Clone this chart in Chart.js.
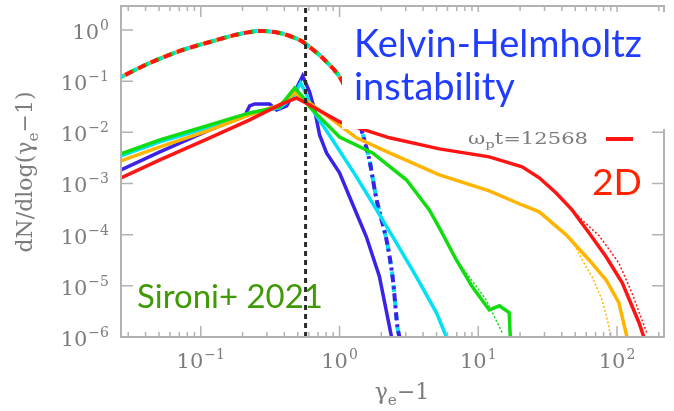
<!DOCTYPE html>
<html lang="en">
<head>
    <meta charset="UTF-8">
    <title>Electron spectra - Kelvin-Helmholtz</title>
    <script src="https://cdn.jsdelivr.net/npm/chart.js"></script>
    <style>
        html, body {
            margin: 0;
            padding: 0;
            background: #fff;
        }
        .chart-container {
            width: 674px;
            height: 411px;
            position: relative;
        }
    </style>
</head>
<body>
    <div class="chart-container">
        <canvas id="spectrumChart"></canvas>
    </div>

    <script>
        // x = gamma_e - 1, y = dN/dlog(gamma_e - 1)
        const blueX = [0.0266, 0.0507, 0.116, 0.207, 0.225, 0.245, 0.313, 0.352, 0.416, 0.475, 0.542, 0.608, 0.661, 0.718, 0.806, 1.0, 1.18, 1.56, 1.94, 2.29, 2.37];
        const blueY = [0.00184, 0.00414, 0.0111, 0.0209, 0.0328, 0.0359, 0.0359, 0.0274, 0.0328, 0.0615, 0.126, 0.0615, 0.0274, 0.0089, 0.00396, 0.00161, 0.00055, 9.1e-5, 1.5e-5, 1.6e-6, 1e-6];

        const cyanX = [0.0266, 0.0507, 0.116, 0.225, 0.37, 0.459, 0.524, 0.579, 0.64, 0.891, 1.325, 1.85, 2.57, 3.58, 4.99, 5.89];
        const cyanY = [0.00346, 0.0065, 0.0127, 0.0239, 0.030, 0.047, 0.0922, 0.0537, 0.0274, 0.0071, 0.00135, 0.000305, 6.9e-5, 1.5e-5, 3.0e-6, 1e-6];

        const greenX = [0.0266, 0.0507, 0.116, 0.225, 0.37, 0.475, 0.542, 0.608, 1.0, 1.73, 3.03, 4.44, 5.24, 6.95, 9.05, 12.0, 14.2, 16.7, 17.0];
        const greenY = [0.00379, 0.0071, 0.01395, 0.0239, 0.0313, 0.0736, 0.0491, 0.0313, 0.0081, 0.00396, 0.00118, 0.000305, 0.000136, 3.2e-5, 9.6e-6, 3.4e-6, 4.07e-6, 3.0e-6, 1e-6];

        const orangeX = [0.0266, 0.0507, 0.116, 0.225, 0.37, 0.475, 0.608, 1.325, 2.29, 5.24, 12.0, 20.7, 27.5, 43.0, 62.9, 83.4, 103, 116, 118];
        const orangeY = [0.00276, 0.0052, 0.0111, 0.0219, 0.0343, 0.0589, 0.0375, 0.0078, 0.00396, 0.00147, 0.000716, 0.00038, 0.000279, 9.9e-5, 3.2e-5, 1.3e-5, 4.7e-6, 1.2e-6, 1e-6];

        const redX = [0.0266, 0.0507, 0.116, 0.225, 0.37, 0.49, 0.608, 1.0, 2.29, 5.24, 12.0, 20.7, 27.5, 36.4, 47.4, 62.9, 83.4, 109, 144, 156];
        const redY = [0.00129, 0.00289, 0.0078, 0.0175, 0.0343, 0.047, 0.0343, 0.016, 0.0078, 0.00474, 0.00331, 0.00211, 0.00129, 0.00065, 0.000305, 0.000108, 3.7e-5, 1.15e-5, 1.9e-6, 1e-6];

        // thin dotted tails
        const redDotX = [47.4, 57.9, 74.3, 103, 128, 164];
        const redDotY = [0.000305, 0.000178, 9.5e-5, 2.8e-5, 7.3e-6, 1.2e-6];
        const orangeDotX = [49.1, 59.8, 66.1, 78.0, 87.6, 89.1];
        const orangeDotY = [6.3e-5, 2.35e-5, 1.5e-5, 5.3e-6, 1.6e-6, 1e-6];
        const greenDotX = [6.95, 8.61, 11.4, 14.9];
        const greenDotY = [3.2e-5, 1.5e-5, 5.3e-6, 1.2e-6];

        // initial Maxwellian (dashed, same for every run)
        const maxwellX = [0.0266, 0.043, 0.0706, 0.116, 0.191, 0.266, 0.37, 0.515, 0.608, 0.78, 1.0, 1.28, 1.46, 1.64, 1.85, 2.18, 2.41, 2.61, 2.70];
        const maxwellY = [0.121, 0.227, 0.389, 0.583, 0.836, 0.956, 0.874, 0.638, 0.466, 0.26, 0.121, 0.030, 0.0097, 0.0029, 0.00048, 7.9e-5, 1.5e-5, 1.6e-6, 1e-6];

        const vlineX = [0.569, 0.569];
        const vlineY = [1e-6, 3];

        const xTickValues = [0.1, 1, 10, 100];
        const xTickLabels = ['10^-1', '10^0', '10^1', '10^2'];
        const yTickValues = [1, 0.1, 0.01, 0.001, 1e-4, 1e-5, 1e-6];
        const yTickLabels = ['10^0', '10^-1', '10^-2', '10^-3', '10^-4', '10^-5', '10^-6'];

        const BLUE = '#3a22e6';
        const CYAN = '#00e1f5';
        const GREEN = '#10dc10';
        const ORANGE = '#ffb400';
        const RED = '#ff1414';
        const AXIS_TEXT = '#7c7c7c';
        const SERIF = "'DejaVu Serif', serif";
        const SANS = "Lato, 'Open Sans', sans-serif";
        const TAIL_START = 1.2;

        function pts(xs, ys) {
            return xs.map((x, i) => ({ x: x, y: ys[i] }));
        }

        function line(xs, ys, color, extra) {
            return Object.assign({
                data: pts(xs, ys),
                borderColor: color,
                borderWidth: 3.5,
                pointRadius: 0,
                fill: false,
                tension: 0
            }, extra || {});
        }

        // head = show on the hump, tail = show on the steep fall-off
        function maxwell(color, offset, head, tail, dash) {
            return line(maxwellX, maxwellY, color, {
                borderWidth: 4,
                borderDash: dash || [7, 7],
                borderDashOffset: offset,
                tension: 0.3,
                segment: {
                    borderColor: (c) => {
                        const inTail = c.p0.parsed.x >= TAIL_START;
                        return (inTail ? tail : head) ? color : 'rgba(0,0,0,0)';
                    }
                }
            });
        }

        function richWidth(ctx, parts, size, family) {
            let w = 0;
            parts.forEach(p => {
                ctx.font = (p.sub ? size * 0.7 : size) + 'px ' + family;
                w += ctx.measureText(p.t).width;
            });
            return w;
        }
        function drawRich(ctx, parts, x, y, size, family) {
            parts.forEach(p => {
                ctx.font = (p.sub ? size * 0.7 : size) + 'px ' + family;
                ctx.fillText(p.t, x, p.sub ? y + size * 0.25 : y);
                x += ctx.measureText(p.t).width;
            });
        }
        function fitText(ctx, text, width, family) {
            ctx.font = '40px ' + family;
            return 40 * width / ctx.measureText(text).width;
        }
        // '10^-1' -> base + raised exponent
        function powerParts(label) {
            const [base, exp] = label.split('^');
            return { base: base, exp: exp.replace('-', '−') };
        }
        function powerWidth(ctx, p) {
            ctx.font = '21px ' + SERIF;
            const a = ctx.measureText(p.base).width;
            ctx.font = '14px ' + SERIF;
            return a + 1 + ctx.measureText(p.exp).width;
        }
        function drawPower(ctx, p, x, baseline) {
            ctx.font = '21px ' + SERIF;
            ctx.fillText(p.base, x, baseline);
            const a = ctx.measureText(p.base).width;
            ctx.font = '14px ' + SERIF;
            ctx.fillText(p.exp, x + a + 1, baseline - 9);
        }

        const framePlugin = {
            id: 'frame',
            afterDatasetsDraw(chart) {
                const { ctx, chartArea: a, scales: { x, y } } = chart;
                ctx.save();
                ctx.strokeStyle = '#b2b2b2';
                ctx.lineWidth = 2;
                ctx.strokeRect(a.left, a.top, a.right - a.left, a.bottom - a.top);
                ctx.lineWidth = 1.5;
                ctx.beginPath();
                for (let e = -2; e <= 2; e++) {
                    for (let m = 1; m <= 9; m++) {
                        const v = m * Math.pow(10, e);
                        if (v < x.min || v > x.max) continue;
                        const px = x.getPixelForValue(v);
                        const len = m === 1 ? 11 : 5;
                        ctx.moveTo(px, a.bottom);
                        ctx.lineTo(px, a.bottom - len);
                        ctx.moveTo(px, a.top);
                        ctx.lineTo(px, a.top + len);
                    }
                }
                yTickValues.forEach(v => {
                    const py = y.getPixelForValue(v);
                    ctx.moveTo(a.left, py);
                    ctx.lineTo(a.left + 12, py);
                    ctx.moveTo(a.right, py);
                    ctx.lineTo(a.right - 12, py);
                });
                ctx.stroke();

                // tick labels
                ctx.fillStyle = AXIS_TEXT;
                ctx.textAlign = 'left';
                ctx.textBaseline = 'alphabetic';
                xTickValues.forEach((v, i) => {
                    const p = powerParts(xTickLabels[i]);
                    const w = powerWidth(ctx, p);
                    drawPower(ctx, p, x.getPixelForValue(v) - w / 2, a.bottom + 31);
                });
                yTickValues.forEach((v, i) => {
                    const p = powerParts(yTickLabels[i]);
                    const w = powerWidth(ctx, p);
                    drawPower(ctx, p, a.left - 12 - w, y.getPixelForValue(v) + 9);
                });
                ctx.restore();
            },
            afterDraw(chart) {
                const ctx = chart.ctx;
                ctx.save();
                ctx.fillStyle = AXIS_TEXT;
                ctx.textBaseline = 'alphabetic';
                ctx.textAlign = 'left';

                // y axis title, rotated
                const yParts = [{ t: 'dN/dlog(γ' }, { t: 'e', sub: true }, { t: '−1)' }];
                const ySize = 22;
                const yw = richWidth(ctx, yParts, ySize, SERIF);
                ctx.save();
                ctx.translate(32, 172);
                ctx.rotate(-Math.PI / 2);
                drawRich(ctx, yParts, -yw / 2, 0, ySize, SERIF);
                ctx.restore();

                // x axis title
                const xParts = [{ t: 'γ' }, { t: 'e', sub: true }, { t: '−1' }];
                const xw = richWidth(ctx, xParts, 22, SERIF);
                drawRich(ctx, xParts, 402 - xw / 2, 399, 22, SERIF);

                // white label box
                ctx.fillStyle = '#ffffff';
                ctx.fillRect(342, 12, 332, 117);

                ctx.fillStyle = '#1f3cff';
                let s = fitText(ctx, 'Kelvin-Helmholtz', 288, SANS);
                ctx.font = s + 'px ' + SANS;
                ctx.fillText('Kelvin-Helmholtz', 354, 57);
                ctx.fillText('instability', 354, 100);

                // run legend
                ctx.fillStyle = AXIS_TEXT;
                const lParts = [{ t: 'ω' }, { t: 'p', sub: true }, { t: 't=12568' }];
                const lw = richWidth(ctx, lParts, 17, SERIF);
                ctx.save();
                ctx.translate(468, 144);
                ctx.scale(120 / lw, 1);
                drawRich(ctx, lParts, 0, 0, 17, SERIF);
                ctx.restore();
                ctx.strokeStyle = RED;
                ctx.lineWidth = 4;
                ctx.beginPath();
                ctx.moveTo(606, 139);
                ctx.lineTo(633, 139);
                ctx.stroke();

                ctx.fillStyle = '#ff2400';
                s = fitText(ctx, '2D', 50, SANS);
                ctx.font = s + 'px ' + SANS;
                ctx.fillText('2D', 592, 195);

                ctx.fillStyle = '#3f9a05';
                s = fitText(ctx, 'Sironi+ 2021', 186, SANS);
                ctx.font = s + 'px ' + SANS;
                ctx.fillText('Sironi+ 2021', 137, 308);

                ctx.restore();
            }
        };

        // Chart.js paints the first dataset on top, so the list runs top -> bottom
        const ctx = document.getElementById('spectrumChart').getContext('2d');
        const chart = new Chart(ctx, {
            type: 'line',
            data: {
                datasets: [
                    line(vlineX, vlineY, '#2a2a2a', { borderWidth: 3, borderDash: [5, 4] }),
                    line(redX, redY, RED),
                    line(greenX, greenY, GREEN),
                    line(orangeX, orangeY, ORANGE),
                    line(cyanX, cyanY, CYAN),
                    line(blueX, blueY, BLUE),
                    line(redDotX, redDotY, RED, { borderWidth: 1.5, borderDash: [2, 2] }),
                    line(orangeDotX, orangeDotY, ORANGE, { borderWidth: 1.5, borderDash: [2, 2] }),
                    line(greenDotX, greenDotY, GREEN, { borderWidth: 1.5, borderDash: [2, 2] }),
                    maxwell(RED, 9, true, false, [8, 6]),
                    maxwell(GREEN, 6, true, false),
                    maxwell(BLUE, 0, false, true, [8, 4, 3, 4]),
                    maxwell(CYAN, 3, true, true),
                    maxwell(ORANGE, 0, true, false)
                ]
            },
            options: {
                responsive: true,
                maintainAspectRatio: false,
                animation: false,
                layout: {
                    padding: { left: 0, right: 10, top: 6, bottom: 0 }
                },
                plugins: {
                    legend: { display: false },
                    tooltip: { enabled: false }
                },
                scales: {
                    x: {
                        type: 'logarithmic',
                        min: 0.0266,
                        max: 218,
                        afterBuildTicks: (scale) => {
                            scale.ticks = xTickValues.map(v => ({ value: v }));
                        },
                        afterFit: (scale) => {
                            scale.height = 74;
                        },
                        grid: { display: false, drawTicks: false },
                        border: { display: false },
                        ticks: { display: false }
                    },
                    y: {
                        type: 'logarithmic',
                        min: 1e-6,
                        max: 2.94,
                        afterBuildTicks: (scale) => {
                            scale.ticks = yTickValues.map(v => ({ value: v }));
                        },
                        afterFit: (scale) => {
                            scale.width = 121;
                        },
                        grid: { display: false, drawTicks: false },
                        border: { display: false },
                        ticks: { display: false }
                    }
                }
            },
            plugins: [framePlugin]
        });
    </script>
</body>
</html>
